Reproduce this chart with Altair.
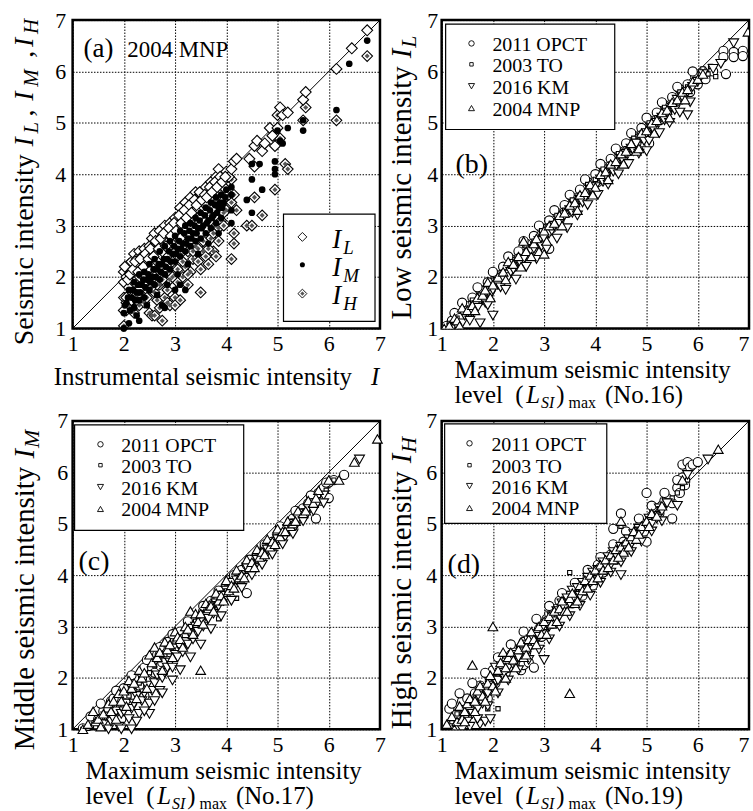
import altair as alt
import pandas as pd

FONT = "Liberation Serif"
TICKS = [1, 2, 3, 4, 5, 6, 7]
LEGEND_NAMES = ["2011 OPCT", "2003 TO", "2016 KM", "2004 MNP"]

# ---------------- (a) 2004 MNP : I vs I_L, I_M, I_H ----------------
a_IL = [(2.0,2.1),(2.0,1.9),(2.0,1.35),(2.05,2.0),(2.05,1.6),(2.1,2.25),(2.1,1.8),(2.15,2.3),(2.15,1.55),
        (2.2,2.45),(2.2,2.1),(2.2,1.9),(2.25,2.35),(2.3,2.5),(2.3,2.2),(2.3,1.75),(2.35,2.4),(2.4,2.55),
        (2.4,2.0),(2.45,2.3),(2.5,2.6),(2.5,2.45),(2.5,2.15),(2.55,2.75),(2.6,2.85),(2.6,2.5),(2.65,2.3),
        (2.7,2.9),(2.7,2.65),(2.75,2.5),(2.8,3.0),(2.8,2.75),(2.85,2.85),(2.9,3.05),(2.9,2.6),(2.95,2.95),
        (3.0,3.15),(3.0,2.8),(3.05,3.0),(3.1,3.35),(3.1,2.75),(3.15,3.2),(3.2,3.45),(3.2,3.05),(3.25,3.3),
        (3.3,3.55),(3.3,3.1),(3.35,3.4),(3.4,3.65),(3.4,3.3),(3.45,3.5),(3.5,3.6),(3.5,3.2),(3.55,3.45),
        (3.6,3.75),(3.6,3.4),(3.65,3.6),(3.7,3.85),(3.7,3.55),(3.75,3.7),(3.8,3.95),(3.8,3.6),(3.85,4.1),
        (3.85,3.8),(3.9,3.9),(3.95,3.75),(4.0,4.05),(4.05,3.95),(4.1,4.1),(4.15,4.25),(4.2,4.3),(4.45,4.3),
        (4.55,4.15),(4.55,4.55),(4.6,4.65),(4.7,4.45),(4.75,4.6),(4.85,4.9),(4.9,4.75),(4.95,4.55),(5.0,4.9),
        (5.05,5.3),(5.1,5.15),(5.2,5.2),(5.5,5.45),(5.55,5.6),(6.15,6.05),(6.45,6.45),(6.75,6.8),
        (2.02,2.2),(2.08,1.95),(2.12,2.05),(2.18,2.15),(2.22,2.3),(2.28,2.1),(2.32,2.35),(2.38,2.2),
        (2.42,2.45),(2.48,2.35),(2.52,2.55),(2.58,2.4),(2.62,2.7),(2.68,2.55),(2.72,2.75),(2.78,2.85),
        (2.82,2.6),(2.88,2.95),(2.92,2.8),(2.98,3.05),(3.02,2.9),(3.08,3.2),(3.12,3.05),(3.18,3.3),
        (3.22,3.15),(3.28,3.4),(3.32,3.25),(3.38,3.5),(3.42,3.4),(3.48,3.65),(3.52,3.5),(3.58,3.6),
        (3.62,3.55),(3.68,3.75),(3.72,3.65),(3.78,3.85),(3.82,3.75),(3.88,3.95),(3.92,3.85),(3.98,3.95)]
a_IM = [(2.0,1.3),(2.0,1.0),(2.05,1.5),(2.1,1.75),(2.1,1.1),(2.15,1.6),(2.2,1.9),(2.2,1.4),(2.25,1.7),
        (2.3,2.05),(2.3,1.15),(2.3,1.55),(2.35,1.85),(2.4,2.1),(2.4,1.6),(2.45,1.95),(2.5,2.25),(2.5,1.75),
        (2.55,2.0),(2.6,2.35),(2.6,1.85),(2.65,2.15),(2.7,2.5),(2.7,1.95),(2.75,2.25),(2.75,1.45),(2.8,2.6),
        (2.8,2.05),(2.8,1.4),(2.85,2.35),(2.9,2.7),(2.9,2.15),(2.95,2.45),(3.0,2.8),(3.0,2.3),(3.0,1.75),
        (3.05,2.55),(3.1,2.9),(3.1,2.4),(3.1,1.85),(3.15,2.65),(3.2,3.0),(3.2,2.5),(3.2,1.75),(3.25,2.75),
        (3.3,3.05),(3.3,2.6),(3.35,2.85),(3.4,3.15),(3.4,2.7),(3.45,2.95),(3.5,3.25),(3.5,2.75),(3.55,3.0),
        (3.6,3.35),(3.6,2.85),(3.65,3.1),(3.7,3.45),(3.7,2.95),(3.75,3.2),(3.8,3.55),(3.8,3.05),(3.85,3.35),
        (3.9,3.6),(3.9,3.15),(3.95,3.45),(4.0,3.7),(4.1,3.75),(4.1,3.6),(4.1,3.3),(4.1,3.05),(4.4,3.5),
        (4.5,3.9),(4.5,4.2),(4.5,3.25),(4.65,4.2),(4.7,3.7),(4.95,4.25),(4.95,4.1),(4.95,4.0),(5.0,4.85),
        (5.05,4.65),(5.1,4.6),(5.2,4.9),(5.5,4.85),(5.5,5.05),(6.15,5.25),(6.4,6.15),(6.75,6.6),
        (2.02,1.45),(2.08,1.6),(2.12,1.35),(2.18,1.75),(2.22,1.55),(2.28,1.85),(2.32,1.7),(2.38,1.95),
        (2.42,1.8),(2.48,2.05),(2.52,1.9),(2.58,2.15),(2.62,2.0),(2.68,2.25),(2.72,2.1),(2.78,2.35),
        (2.82,2.2),(2.88,2.5),(2.92,2.3),(2.98,2.6),(3.02,2.45),(3.08,2.7),(3.12,2.55),(3.18,2.85),
        (3.22,2.65),(3.28,2.9),(3.32,2.75),(3.38,3.0),(3.42,2.85),(3.48,3.1),(3.52,2.95),(3.58,3.2),
        (3.62,3.05),(3.68,3.3),(3.72,3.15),(3.78,3.4),(3.82,3.25),(3.88,3.45),(3.92,3.35),(3.98,3.55),
        (2.25,1.25),(2.45,1.45),(2.65,1.65),(2.85,1.85),(3.05,2.05),(3.25,2.25),(3.45,2.45),(3.65,2.65),
        (3.85,2.85)]
a_IH = [(2.0,1.05),(2.0,1.6),(2.05,1.35),(2.1,1.45),(2.15,1.6),(2.2,1.3),(2.25,1.65),(2.3,1.45),(2.3,2.0),
        (2.35,1.8),(2.4,1.5),(2.45,1.75),(2.5,1.3),(2.5,1.95),(2.5,2.4),(2.55,1.25),(2.6,1.7),(2.6,2.0),
        (2.65,1.55),(2.7,1.85),(2.7,2.2),(2.75,1.15),(2.8,1.6),(2.85,1.5),(2.85,2.1),(2.9,1.45),(2.9,1.95),
        (2.95,2.3),(3.0,1.6),(3.0,2.05),(3.05,1.9),(3.1,2.45),(3.1,1.55),(3.15,2.0),(3.2,2.2),(3.25,1.85),
        (3.25,2.5),(3.3,2.1),(3.35,2.35),(3.4,2.6),(3.45,2.3),(3.5,2.15),(3.5,1.7),(3.55,2.5),(3.6,2.4),
        (3.65,2.25),(3.7,2.75),(3.7,3.2),(3.75,2.5),(3.8,2.4),(3.8,3.0),(3.8,3.55),(3.85,2.95),(3.9,3.1),
        (3.9,3.7),(3.95,3.0),(4.0,3.3),(4.1,3.45),(4.1,3.9),(4.15,2.85),(4.15,2.65),(4.1,2.35),(4.15,3.6),
        (4.2,3.3),(4.4,3.0),(4.5,3.0),(4.55,3.55),(4.7,3.2),(4.95,3.7),(4.95,4.75),(5.0,5.15),(5.05,4.7),
        (5.15,4.2),(5.2,4.1),(5.5,5.05),(5.55,5.3),(6.15,5.05),(6.75,6.3),
        (2.05,1.5),(2.15,1.4),(2.25,1.55),(2.35,1.6),(2.45,1.6),(2.55,1.8),(2.65,1.85),(2.75,1.95),
        (2.85,1.75),(2.95,2.0),(3.05,2.15),(3.15,2.3),(3.25,2.05),(3.35,2.5),(3.45,2.55),(3.55,2.7),
        (3.65,2.55),(3.75,2.85),(3.85,2.7),(3.95,3.25),(4.05,3.6),(2.6,1.25),(2.7,1.4),(3.0,1.45)]

# ---------------- (b) No.16 : (L_SI)max vs I_L ----------------
b_OPCT = [(1.1,1.05),(1.2,1.15),(1.25,1.3),(1.35,1.2),(1.45,1.45),(1.5,1.35),(1.6,1.6),(1.65,1.45),
          (1.75,1.75),(1.8,1.6),(1.9,1.9),(1.95,1.75),(2.05,2.05),(2.1,1.9),(2.2,2.2),(2.25,2.05),
          (2.35,2.35),(2.4,2.2),(2.5,2.5),(2.55,2.35),(2.65,2.65),(2.7,2.5),(2.8,2.8),(2.85,2.65),
          (2.95,2.95),(3.0,2.8),(3.1,3.1),(3.1,2.55),(3.15,2.95),(3.25,3.25),(3.3,3.1),(3.4,3.4),
          (3.45,3.25),(3.55,3.55),(3.6,3.4),(3.7,3.7),(3.75,3.55),(3.85,3.85),(3.9,3.7),(4.0,4.0),
          (4.05,3.85),(4.15,4.15),(4.2,4.0),(4.3,4.3),(4.35,4.15),(4.45,4.45),(4.5,4.3),(4.6,4.6),
          (4.65,4.45),(4.75,4.75),(4.8,4.6),(4.9,4.9),(4.95,4.75),(5.05,5.05),(5.05,4.6),(5.1,4.9),
          (5.2,5.2),(5.25,5.05),(5.35,5.35),(5.4,5.2),(5.5,5.5),(5.55,5.35),(5.65,5.65),(5.7,5.5),
          (5.8,5.75),(5.85,5.6),(5.95,5.9),(6.0,5.75),(6.1,6.0),(6.15,5.85),(6.3,6.0),(6.55,5.95),
          (6.5,6.4),(6.5,6.28),(6.7,6.38),(6.7,6.28),(6.88,6.4),(6.88,6.3),
          (1.4,1.5),(1.7,1.8),(2.0,2.1),(2.3,2.4),(2.6,2.7),(2.9,3.0),(3.2,3.3),(3.5,3.6),(3.8,3.9),
          (4.1,4.2),(4.4,4.5),(4.7,4.8),(5.0,5.1),(5.3,5.4),(5.6,5.7),(5.9,6.0)]
b_TO = [(1.15,1.1),(1.3,1.2),(1.45,1.35),(1.6,1.55),(1.75,1.65),(1.9,1.85),(2.05,1.95),(2.2,2.1),
        (2.35,2.3),(2.5,2.4),(2.65,2.6),(2.8,2.7),(2.95,2.9),(3.1,3.0),(3.25,3.2),(3.4,3.3),(3.55,3.5),
        (3.7,3.6),(3.85,3.8),(4.0,3.9),(4.15,4.1),(4.3,4.2),(4.45,4.4),(4.6,4.5),(4.75,4.7),(4.9,4.8),
        (5.05,5.0),(5.2,5.1),(5.35,5.3),(5.5,5.4),(5.65,5.6),(5.8,5.7),(5.95,5.85),(6.05,5.95),
        (6.2,5.95),(6.25,6.1),(6.35,5.9),(6.1,6.05)]
b_KM = [(1.2,1.0),(1.3,1.05),(1.4,1.1),(1.45,1.25),(1.5,1.3),(1.6,1.3),(1.65,1.45),(1.7,1.4),(1.75,1.1),
        (1.8,1.55),(1.85,1.5),(1.95,1.65),(2.0,1.25),(2.0,1.75),(2.1,1.85),(2.15,1.8),(2.2,1.95),
        (2.3,2.0),(2.35,2.1),(2.4,2.15),(2.5,2.3),(2.55,2.25),(2.6,2.35),(2.7,2.45),(2.75,2.5),
        (2.8,2.55),(2.9,2.7),(2.95,2.6),(3.0,2.75),(3.1,2.85),(3.15,2.9),(3.2,3.0),(3.3,3.05),
        (3.35,3.15),(3.4,3.2),(3.5,3.3),(3.55,3.25),(3.6,3.35),(3.7,3.5),(3.75,3.45),(3.8,3.55),
        (3.9,3.7),(3.95,3.65),(4.0,3.75),(4.1,3.9),(4.15,3.85),(4.2,3.95),(4.3,4.1),(4.35,4.05),
        (4.4,4.15),(4.5,4.3),(4.55,4.25),(4.6,4.4),(4.7,4.5),(4.75,4.45),(4.8,4.6),(4.9,4.7),
        (4.95,4.65),(5.0,4.45),(5.0,4.8),(5.1,4.9),(5.15,4.85),(5.2,5.0),(5.3,5.1),(5.35,5.05),
        (5.4,5.2),(5.5,5.3),(5.55,5.25),(5.6,5.45),(5.7,5.5),(5.8,5.6),(5.8,5.15),(5.9,5.7),(6.0,5.8),
        (6.1,5.95),(6.3,6.05),(6.45,6.15),(6.7,6.55),
        (1.55,1.15),(1.9,1.45),(2.25,1.75),(2.45,1.95),(2.65,2.2),(2.85,2.35),(3.05,2.55),(3.25,2.75),
        (3.45,2.95),(3.65,3.2),(3.85,3.4),(4.05,3.6),(4.25,3.8),(4.45,4.0),(4.65,4.2),(4.85,4.4),
        (5.05,4.65),(5.25,4.8),(5.45,5.0),(5.65,5.2),(5.85,5.4)]
b_MNP = [(1.05,1.0),(1.15,1.05),(1.25,1.2),(1.3,1.15),(1.4,1.4),(1.5,1.35),(1.6,1.45),(1.7,1.6),
         (1.8,1.65),(1.85,1.75),(1.9,1.9),(2.0,1.85),(2.1,2.0),(2.2,2.1),(2.3,2.3),(2.4,2.25),(2.5,2.4),
         (2.6,2.7),(2.65,2.5),(2.8,2.65),(2.85,2.75),(2.9,2.5),(3.0,2.45),(3.0,2.9),(3.1,3.0),(3.2,3.05),
         (3.3,3.2),(3.4,3.25),(3.5,3.4),(3.6,3.45),(3.7,3.6),(3.8,3.65),(3.9,3.8),(4.0,3.75),(4.1,4.0),
         (4.2,4.05),(4.3,4.2),(4.4,4.25),(4.5,4.4),(4.6,4.45),(4.7,4.6),(4.8,4.45),(4.9,4.8),(5.0,4.85),
         (5.1,5.0),(5.2,5.05),(5.3,5.2),(5.4,5.25),(5.5,5.4),(5.6,5.45),(5.7,5.6),(5.8,5.65),(5.9,5.8),
         (6.0,5.85),(6.1,5.95),(6.98,6.77),
         (1.35,1.05),(1.65,1.35),(1.95,1.6),(2.25,1.95),(2.55,2.2),(2.75,2.4),(3.05,2.7),(3.35,3.0),
         (3.65,3.3),(3.95,3.6),(4.25,3.9),(4.55,4.2),(4.85,4.5),(5.15,4.8),(5.45,5.1),(5.75,5.45)]

# ---------------- (c) No.17 : (L_SI)max vs I_M ----------------
c_OPCT = [(1.2,1.02),(1.35,1.25),(1.45,1.1),(1.5,1.2),(1.6,1.35),(1.7,1.4),(1.75,1.55),(1.8,1.6),
          (1.85,1.3),(1.9,1.45),(1.95,1.2),(2.0,1.8),(2.05,1.65),(2.1,1.5),(2.15,1.9),(2.2,2.0),
          (2.25,1.75),(2.3,1.85),(2.35,2.1),(2.4,2.2),(2.4,1.65),(2.45,1.95),(2.5,2.35),(2.55,2.2),
          (2.6,2.1),(2.65,2.45),(2.7,2.45),(2.75,2.3),(2.8,2.6),(2.85,2.7),(2.9,2.5),(2.95,2.65),
          (3.0,2.75),(3.05,2.85),(3.1,2.9),(3.15,2.75),(3.2,2.8),(3.25,3.0),(3.3,3.0),(3.35,3.1),
          (3.4,3.15),(3.45,3.05),(3.5,3.2),(3.55,3.3),(3.6,3.35),(3.65,3.25),(3.7,3.5),(3.75,3.45),
          (3.8,3.5),(3.85,3.65),(3.9,3.7),(3.95,3.6),(4.0,3.8),(4.05,3.9),(4.1,3.75),(4.15,3.95),
          (4.2,4.0),(4.3,4.1),(4.4,3.65),(4.4,4.2),(4.5,4.3),(4.6,4.4),(4.7,4.45),(4.75,4.55),(4.8,4.6),
          (4.9,4.65),(5.0,4.8),(5.05,4.9),(5.1,4.9),(5.2,4.95),(5.25,5.05),(5.3,5.1),(5.4,5.2),(5.5,5.3),
          (5.6,5.4),(5.7,5.5),(5.75,5.1),(5.8,5.6),(5.85,5.45),(5.9,5.7),(6.0,5.8),(6.0,5.5),(6.1,5.85),
          (6.3,5.95),
          (1.55,1.5),(1.85,1.75),(2.15,2.05),(2.45,2.35),(2.7,2.6),(2.95,2.85),(3.25,3.1),(3.55,3.4),
          (3.85,3.7),(4.15,4.0),(4.45,4.3),(4.75,4.6),(5.05,4.95),(5.35,5.25),(5.65,5.55),(5.95,5.8)]
c_TO = [(1.2,1.0),(1.3,1.02),(1.45,1.05),(1.6,1.15),(1.7,1.25),(1.8,1.3),(1.9,1.45),(2.0,1.55),
        (2.1,1.65),(2.2,1.75),(2.3,1.9),(2.4,2.0),(2.5,2.1),(2.6,2.25),(2.7,2.35),(2.8,2.45),(2.9,2.6),
        (3.0,2.7),(3.1,2.8),(3.2,2.9),(3.3,3.0),(3.4,3.1),(3.5,3.2),(3.6,3.3),(3.7,3.45),(3.8,3.55),
        (3.85,3.15),(3.9,3.65),(4.0,3.75),(4.1,3.85),(4.2,3.95),(4.2,3.55),(4.3,4.05),(4.4,4.15),
        (4.5,4.25),(4.6,4.35),(4.7,4.45),(4.8,4.55),(4.9,4.65),(5.0,4.75),(5.1,4.85),(5.2,4.95),
        (5.3,5.05),(5.4,5.15),(5.5,5.25),(5.6,5.35),(5.7,5.45),(5.8,5.55),(5.95,5.65),(6.1,5.85)]
c_KM = [(1.6,1.1),(1.65,1.25),(1.7,1.0),(1.75,1.15),(1.8,1.2),(1.85,1.35),(1.9,1.05),(1.95,1.3),
        (2.0,1.35),(2.05,1.5),(2.1,1.2),(2.15,1.0),(2.15,1.4),(2.2,1.5),(2.25,1.65),(2.3,1.3),
        (2.35,1.55),(2.4,1.7),(2.45,1.85),(2.5,1.5),(2.5,1.3),(2.55,1.75),(2.6,1.9),(2.65,2.05),
        (2.7,1.75),(2.75,2.0),(2.8,2.1),(2.85,2.2),(2.9,2.3),(2.95,2.2),(3.0,2.45),(3.05,2.4),(3.1,2.6),
        (3.15,2.5),(3.2,2.7),(3.25,2.65),(3.3,2.85),(3.35,2.75),(3.4,3.0),(3.45,2.9),(3.5,3.1),
        (3.55,3.0),(3.6,3.2),(3.65,3.15),(3.7,3.35),(3.75,3.25),(3.8,3.45),(3.85,3.4),(3.9,3.6),
        (3.95,3.5),(4.0,3.7),(4.05,3.65),(4.1,3.85),(4.15,3.75),(4.2,3.9),(4.3,4.0),(4.35,3.95),
        (4.4,4.15),(4.5,4.2),(4.55,4.15),(4.6,4.3),(4.7,4.4),(4.75,4.35),(4.8,4.5),(4.9,4.6),(4.95,4.55),
        (5.0,4.7),(5.1,4.8),(5.15,4.75),(5.2,4.9),(5.3,5.0),(5.35,4.95),(5.4,5.1),(5.5,5.2),(5.55,5.15),
        (5.6,5.3),(5.7,5.4),(5.75,5.35),(5.9,5.55),(6.6,6.25),
        (1.95,1.0),(2.25,1.15),(2.4,1.35),(2.6,1.55),(2.75,1.7),(2.95,1.95),(3.1,2.15),(3.3,2.4),
        (3.5,2.65),(3.7,2.95),(3.9,3.2),(4.1,3.5),(4.3,3.75),(4.5,4.0),(4.7,4.2),(4.9,4.4),(5.1,4.6),
        (5.3,4.8),(5.5,5.05),(5.7,5.25),(5.9,5.4)]
c_MNP = [(1.2,1.0),(1.3,1.1),(1.4,1.35),(1.45,1.15),(1.5,1.2),(1.6,1.3),(1.7,1.5),(1.75,1.35),(1.8,1.55),
         (1.9,1.7),(1.95,1.55),(2.0,1.75),(2.1,1.95),(2.15,1.8),(2.2,1.9),(2.3,2.15),(2.35,2.0),(2.4,2.1),
         (2.5,2.45),(2.55,2.3),(2.6,2.6),(2.65,2.4),(2.7,2.5),(2.8,2.7),(2.85,2.55),(2.9,2.65),(3.0,2.9),
         (3.05,2.8),(3.1,2.75),(3.2,3.0),(3.25,2.95),(3.3,3.3),(3.4,3.25),(3.45,3.1),(3.5,2.15),(3.5,3.25),
         (3.6,3.45),(3.65,3.35),(3.7,3.4),(3.8,3.65),(3.85,3.5),(3.9,3.6),(4.0,3.9),(4.05,3.7),(4.1,3.8),
         (4.2,4.1),(4.25,3.95),(4.3,4.0),(4.4,4.3),(4.45,4.15),(4.5,4.25),(4.6,4.5),(4.65,4.35),(4.7,4.45),
         (4.8,4.7),(4.85,4.55),(4.9,4.65),(5.0,4.9),(5.05,4.75),(5.1,4.85),(5.2,5.05),(5.25,4.95),(5.3,5.0),
         (5.4,5.25),(5.5,5.2),(5.6,5.45),(5.7,5.4),(5.8,5.65),(6.0,5.85),(6.2,5.85),(6.5,6.2),(6.95,6.65),
         (1.55,1.05),(1.85,1.2),(2.05,1.45),(2.25,1.6),(2.45,1.8),(2.75,2.15),(2.95,2.4),(3.15,2.6),
         (3.35,2.85),(3.55,3.05),(3.75,3.3),(3.95,3.5),(4.15,3.75),(4.35,3.95),(4.55,4.15),(4.75,4.4),
         (4.95,4.6),(5.15,4.85),(5.35,5.05),(5.55,5.25),(5.75,5.5)]

# ---------------- (d) No.19 : (L_SI)max vs I_H ----------------
d_OPCT = [(1.15,1.4),(1.2,1.5),(1.25,1.2),(1.3,1.3),(1.4,1.55),(1.45,1.35),(1.5,1.6),(1.55,1.45),(1.6,1.5),
          (1.65,1.7),(1.7,1.6),(1.75,1.85),(1.8,1.8),(1.85,1.65),(1.9,1.6),(1.95,1.95),(2.0,2.15),(2.05,1.9),
          (2.1,2.0),(2.15,2.25),(2.2,2.3),(2.25,2.1),(2.3,2.2),(2.35,2.45),(2.4,2.5),(2.45,2.3),(2.5,2.4),
          (2.55,2.15),(2.55,2.6),(2.6,2.7),(2.6,2.25),(2.65,2.5),(2.7,2.3),(2.7,2.8),(2.75,2.65),(2.8,2.2),
          (2.85,2.85),(2.9,2.95),(2.95,2.8),(3.0,3.0),(3.05,3.15),(3.1,3.25),(3.15,3.05),(3.2,3.1),
          (3.25,3.35),(3.3,3.5),(3.35,3.3),(3.4,3.4),(3.45,3.6),(3.5,3.6),(3.55,3.45),(3.6,3.55),
          (3.65,3.75),(3.7,3.75),(3.75,3.6),(3.8,3.7),(3.85,3.95),(3.9,3.9),(3.95,3.8),(4.0,4.0),
          (4.05,4.2),(4.1,4.15),(4.15,4.05),(4.2,4.1),(4.25,4.35),(4.3,4.4),(4.35,4.9),(4.4,4.3),
          (4.45,4.5),(4.5,5.2),(4.5,4.5),(4.55,4.65),(4.6,4.6),(4.65,4.5),(4.7,4.8),(4.75,4.7),(4.8,4.75),
          (4.85,4.95),(4.9,5.0),(4.95,4.85),(5.0,5.6),(5.0,4.65),(5.05,5.05),(5.1,5.15),(5.15,5.25),
          (5.2,5.3),(5.25,5.2),(5.3,5.35),(5.35,5.45),(5.4,5.5),(5.5,5.1),(5.5,5.4),(5.6,5.7),(5.65,5.6),
          (5.7,5.9),(5.7,6.15),(5.75,5.75),(5.8,6.2),(5.85,6.1),(5.9,6.15),(6.0,6.2),
          (1.35,1.7),(1.6,1.9),(1.85,2.1),(2.1,2.4),(2.35,2.65),(2.6,2.9),(2.85,3.15),(3.1,3.4),
          (3.35,3.65),(3.6,3.85),(3.85,4.1),(4.1,4.35),(4.35,4.6),(4.6,4.85),(4.85,5.1),(5.1,5.35),
          (5.35,5.6),(5.6,5.85)]
d_TO = [(1.2,1.15),(1.3,1.3),(1.4,1.3),(1.5,1.45),(1.6,1.5),(1.7,1.65),(1.8,1.7),(1.9,1.4),(1.9,1.85),
        (2.0,1.9),(2.1,1.4),(2.1,2.05),(2.2,2.1),(2.3,2.25),(2.4,2.3),(2.5,2.45),(2.6,2.5),(2.7,2.65),
        (2.8,2.7),(2.9,2.85),(3.0,2.9),(3.1,3.05),(3.2,3.1),(3.3,3.25),(3.4,3.3),(3.5,4.05),(3.5,3.45),
        (3.6,3.5),(3.7,3.65),(3.8,3.75),(3.9,3.85),(4.0,3.95),(4.1,4.1),(4.2,4.15),(4.3,4.3),(4.4,4.35),
        (4.5,4.95),(4.5,4.5),(4.6,4.55),(4.7,4.7),(4.8,4.75),(4.9,4.9),(5.0,5.0),(5.1,5.1),(5.2,5.2),
        (5.3,5.3),(5.4,5.45),(5.5,5.5),(5.6,5.6),(5.7,5.7),(5.8,5.85)]
d_KM = [(1.3,1.0),(1.35,1.1),(1.4,1.0),(1.45,1.2),(1.5,1.15),(1.55,1.35),(1.6,1.3),(1.65,1.5),(1.7,1.4),
        (1.75,1.1),(1.75,1.6),(1.8,1.5),(1.85,1.15),(1.85,1.75),(1.9,1.7),(1.95,1.2),(1.95,1.85),(2.0,1.8),
        (2.05,2.2),(2.05,1.95),(2.1,1.95),(2.15,2.1),(2.2,2.05),(2.25,2.25),(2.3,2.2),(2.35,2.35),
        (2.4,2.25),(2.45,2.45),(2.5,2.4),(2.55,2.55),(2.6,2.5),(2.65,2.65),(2.7,2.55),(2.75,2.75),
        (2.8,2.65),(2.85,2.85),(2.9,2.8),(2.95,2.95),(3.0,2.85),(3.0,2.35),(3.05,3.05),(3.1,3.0),
        (3.15,3.2),(3.2,3.1),(3.25,3.3),(3.3,3.2),(3.35,3.45),(3.4,3.35),(3.45,3.55),(3.5,3.45),
        (3.55,3.7),(3.6,3.5),(3.65,3.75),(3.7,3.6),(3.75,3.85),(3.8,3.7),(3.85,3.95),(3.9,3.85),
        (3.95,4.05),(4.0,3.9),(4.05,4.1),(4.1,4.0),(4.15,4.25),(4.2,4.15),(4.25,4.35),(4.3,4.2),
        (4.35,4.45),(4.4,4.35),(4.5,4.0),(4.5,4.55),(4.6,4.5),(4.65,4.7),(4.7,4.6),(4.75,4.8),(4.8,4.7),
        (4.85,4.9),(4.9,4.85),(5.0,4.95),(5.05,5.1),(5.1,5.0),(5.2,5.1),(5.25,5.3),(5.3,5.25),(5.4,5.4),
        (5.6,5.35),(5.8,5.95),(6.2,6.25),
        (1.55,1.05),(1.7,1.2),(1.9,1.45),(2.1,1.7),(2.3,1.95),(2.5,2.15),(2.7,2.35),(2.9,2.55),
        (3.1,2.75),(3.3,3.0),(3.5,3.2),(3.7,3.4),(3.9,3.6),(4.1,3.85),(4.3,4.05),(4.5,4.25),(4.7,4.45),
        (4.9,4.65),(5.1,4.85),(5.3,5.05)]
d_MNP = [(1.1,1.1),(1.2,1.25),(1.3,1.15),(1.35,1.45),(1.4,1.2),(1.45,1.35),(1.5,1.5),(1.55,1.6),(1.6,2.25),
         (1.65,1.55),(1.7,1.75),(1.75,1.85),(1.8,1.65),(1.9,1.9),(1.95,2.05),(2.0,3.0),(2.0,1.85),(2.1,2.15),
         (2.15,2.3),(2.2,2.5),(2.25,2.2),(2.3,2.4),(2.35,2.5),(2.4,2.35),(2.5,2.55),(2.55,2.7),(2.6,2.4),
         (2.65,2.6),(2.7,2.75),(2.75,2.9),(2.8,2.75),(2.9,3.0),(2.95,2.85),(3.0,3.1),(3.1,3.2),(3.15,3.05),
         (3.2,3.3),(3.3,3.35),(3.35,3.5),(3.4,3.3),(3.5,1.7),(3.5,3.55),(3.55,3.65),(3.6,3.45),(3.7,3.8),
         (3.75,3.7),(3.8,3.9),(3.9,4.0),(3.95,3.9),(4.0,4.1),(4.1,4.2),(4.15,4.1),(4.2,4.3),(4.3,4.4),
         (4.35,4.3),(4.4,4.5),(4.5,5.05),(4.5,4.55),(4.55,4.45),(4.6,4.65),(4.7,4.75),(4.75,4.85),
         (4.8,4.7),(4.9,4.95),(5.0,5.05),(5.1,5.2),(5.2,5.15),(5.3,5.35),(5.7,5.85),(6.4,6.45),
         (1.25,1.0),(1.45,1.15),(1.65,1.35),(1.85,1.55),(2.05,1.75),(2.25,2.0),(2.45,2.2),(2.65,2.45),
         (2.85,2.65),(3.05,2.85),(3.25,3.1),(3.45,3.3),(3.65,3.5),(3.85,3.75),(4.05,3.95),(4.25,4.15),
         (4.45,4.35),(4.65,4.55),(4.85,4.8),(5.05,4.95)]

DIAG = [1, 7]

# ---------------- helpers ----------------
SC = alt.Scale(domain=[1, 7], nice=False, zero=False)
ONE = alt.Data(values=[{"k": 0}])

W = {' ': .25, 'S': .556, 'e': .444, 'i': .278, 's': .389, 'm': .778, 'c': .444, 'n': .5, 't': .278,
     'y': .5, 'L': .611, 'o': .5, 'w': .722, 'M': .889, 'd': .5, 'l': .278, 'H': .722, 'g': .5,
     'h': .5, 'I': .333, 'r': .333, 'u': .5, 'a': .444, 'x': .5, 'v': .5, '(': .333, ')': .333,
     'N': .722, '.': .25, ',': .25, 'O': .722, 'P': .556, 'C': .667, 'T': .611, 'K': .722}
WI = {'I': .333, 'L': .556, 'M': .833, 'H': .722, 'S': .5}


def tw(s, size, italic=False):
    tot = 0
    for ch in s:
        if ch.isdigit():
            tot += .5
        elif italic and ch in WI:
            tot += WI[ch]
        else:
            tot += W.get(ch, .5)
    return tot * size


def axes(ypad, edge):
    common = dict(values=TICKS, title=None, format="d", labelFont=FONT, labelFontSize=22,
                  labelColor="black", labelOverlap=False, labelBound=False, labelFlush=False,
                  grid=True, gridColor="black", gridDash=[1.5, 1.5], gridWidth=1, gridOpacity=1,
                  domain=False, ticks=False)
    if edge:
        xa = alt.Axis(labelPadding=5, labelAlign={"condition": {"test": "datum.value === 7", "value": "right"},
                                                  "value": "center"}, **common)
    else:
        xa = alt.Axis(labelPadding=5, **common)
    ya = alt.Axis(labelPadding=ypad, **common)
    return xa, ya


def scatter(pairs, shape, size, fill, xa, ya, stroke="black", sw=1.1, clip=False):
    df = pd.DataFrame(pairs, columns=["x", "y"])
    mk = dict(shape=shape, size=size, filled=True, fill=fill, opacity=1)
    if stroke:
        mk.update(stroke=stroke, strokeWidth=sw)
    else:
        mk.update(strokeWidth=0)
    if clip:
        mk["clip"] = True
    return alt.Chart(df).mark_point(**mk).encode(
        x=alt.X("x:Q", scale=SC, axis=xa), y=alt.Y("y:Q", scale=SC, axis=ya))


def diag(xa, ya):
    df = pd.DataFrame({"x": DIAG, "y": DIAG})
    return alt.Chart(df).mark_line(color="black", strokeWidth=1).encode(
        x=alt.X("x:Q", scale=SC, axis=xa), y=alt.Y("y:Q", scale=SC, axis=ya))


def txt(s, x, y, size, italic=False, angle=0):
    kw = dict(text=s, font=FONT, fontSize=size, color="black", align="left", baseline="alphabetic")
    if italic:
        kw["fontStyle"] = "italic"
    if angle:
        kw["angle"] = angle
    return alt.Chart(ONE).mark_text(**kw).encode(x=alt.value(x), y=alt.value(y))


def hseq(pieces, x0, y0):
    out, x = [], x0
    for t, size, it, dy, gap in pieces:
        out.append(txt(t, x, y0 + dy, size, it))
        x += tw(t, size, it) + gap
    return out


def vseq(pieces, xb, y0):
    out, y = [], y0
    for t, size, it, dx, gap in pieces:
        out.append(txt(t, xb + dx, y, size, it, angle=270))
        y -= tw(t, size, it) + gap
    return out


def vtitle(main, sub, xb, y0, size=29):
    return vseq([(main, size, False, 0, 8), ("I", size, True, 0, 1), (sub, 22, True, 5, 0)], xb, y0)


def xtitle2(no):
    l1 = [txt("Maximum seismic intensity", 13, 360, 25)]
    l2 = hseq([("level", 25, False, 0, 12.4), ("(", 25, False, 0, 2.7), ("L", 25, True, 0, 1),
               ("SI", 16, True, 5, 2), (")", 25, False, 0, 4), ("max", 16, False, 5, 9),
               ("(No.%d)" % no, 25, False, 0, 0)], 13, 385)
    return l1 + l2


def rect(x1, x2, y1, y2):
    return alt.Chart(ONE).mark_rect(fill="white", stroke="black", strokeWidth=1.2).encode(
        x=alt.value(x1), x2=alt.value(x2), y=alt.value(y1), y2=alt.value(y2))


def sym(shape, size, fill, x, y, stroke="black", sw=0.9):
    mk = dict(shape=shape, size=size, filled=True, fill=fill, opacity=1)
    if stroke:
        mk.update(stroke=stroke, strokeWidth=sw)
    else:
        mk.update(strokeWidth=0)
    return alt.Chart(ONE).mark_point(**mk).encode(x=alt.value(x), y=alt.value(y))


STY = [("circle", 85, "white"), ("square", 18, "white"), ("triangle-down", 100, "white"),
       ("triangle-up", 95, "white")]
LSTY = [("circle", 30, "white"), ("square", 12, "white"), ("triangle-down", 38, "white"),
        ("triangle-up", 36, "white")]


def legend4(x1, x2, y1, y2, sx, tx, rows):
    out = [rect(x1, x2, y1, y2)]
    for (shape, size, fill), name, by in zip(LSTY, LEGEND_NAMES, rows):
        out.append(sym(shape, size, fill, sx, by - 7.5))
        out.append(txt(name, tx, by, 20))
    return out


def panel_bcd(series, ypad, edge, label, lab_x, lab_y, ytitle, xb, y0, no, box):
    xa, ya = axes(ypad, edge)
    layers = [diag(xa, ya)]
    for pairs, (shape, size, fill) in zip(series, STY):
        layers.append(scatter(pairs, shape, size, fill, xa, ya, clip=edge))
    layers += legend4(*box)
    layers.append(txt(label, lab_x, lab_y, 28))
    layers += vtitle(ytitle[0], ytitle[1], xb, y0)
    layers += xtitle2(no)
    return alt.layer(*layers).properties(width=309, height=310)


# ---------------- panel (a) ----------------
xa, ya = axes(7, False)
a_layers = [
    diag(xa, ya),
    scatter(a_IH, "diamond", 115, "white", xa, ya),
    scatter(a_IH, "diamond", 26, "#555555", xa, ya, stroke=None),
    scatter(a_IL, "diamond", 120, "white", xa, ya),
    scatter(a_IM, "circle", 45, "black", xa, ya, stroke=None),
    rect(212, 304, 195, 303),
    sym("diamond", 80, "white", 231, 218),
    sym("circle", 26, "black", 231, 246, stroke=None),
    sym("diamond", 80, "white", 231, 275),
    sym("diamond", 18, "#555555", 231, 275, stroke=None),
    txt("(a)", 11, 37, 27),
    txt("2004 MNP", 55, 37, 23),
]
for sub, by in [("L", 229), ("M", 257), ("H", 285)]:
    a_layers.append(txt("I", 261, by, 27, True))
    a_layers.append(txt(sub, 272, by + 6, 19, True))
a_layers.append(txt("Instrumental seismic intensity", -19, 367, 25))
a_layers.append(txt("I", 300, 367, 25, True))
for t, size, it, dx, ys in [("Seismic intensity", 28, False, 0, 327), ("I", 28, True, 0, 127),
                            ("L", 21, True, 5, 114), (",", 28, False, 0, 97), ("I", 28, True, 0, 81),
                            ("M", 21, True, 5, 67), (",", 28, False, 0, 38), ("I", 28, True, 0, 27),
                            ("H", 21, True, 5, 14)]:
    a_layers.append(txt(t, -40 + dx, ys, size, it, angle=270))
pa = alt.layer(*a_layers).properties(width=309, height=310)

pb = panel_bcd([b_OPCT, b_TO, b_KM, b_MNP], 4, True, "(b)", 14, 154, ("Low seismic intensity", "L"),
               -31, 301, 16, (4, 174, 4, 110, 30, 51, [31, 52, 74, 96]))
pc = panel_bcd([c_OPCT, c_TO, c_KM, c_MNP], 5, False, "(c)", 6, 150, ("Middle seismic intensity", "M"),
               -39, 331, 17, (2, 172, 4, 110, 28, 49, [31, 52, 74, 96]))
pd_ = panel_bcd([d_OPCT, d_TO, d_KM, d_MNP], 5, True, "(d)", 6, 153, ("High seismic intensity", "H"),
                -31, 310, 19, (3, 166, 3, 103, 28, 50, [30, 52, 73, 95]))

chart = alt.concat(pa, pb, pc, pd_, columns=2, spacing={"row": 93, "column": 62},
                   bounds="flush").properties(
    padding={"left": 9, "top": 5, "right": 0, "bottom": 0}
).configure(background="white").configure_view(stroke="black", strokeWidth=2.5)

chart.save("out.html", embed_options={"renderer": "svg", "actions": False})
